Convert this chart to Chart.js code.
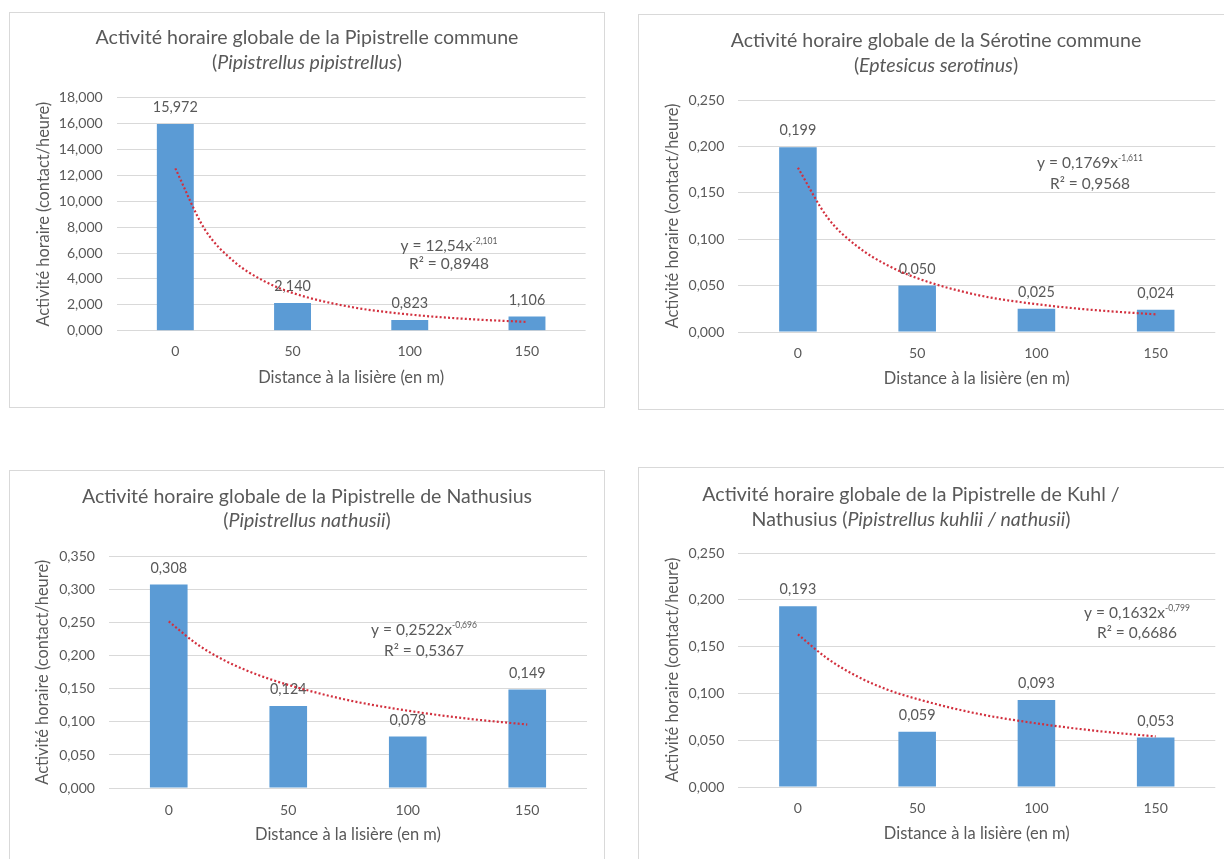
<!DOCTYPE html>
<html><head><meta charset="utf-8">
<script src="https://cdn.jsdelivr.net/npm/chart.js@4.4.1/dist/chart.umd.min.js"></script>
<style>
html,body{margin:0;padding:0;background:#fff;width:1224px;height:859px;overflow:hidden;position:relative;}
.panel{position:absolute;box-sizing:border-box;border:1px solid #D9D9D9;background:#fff;}
canvas{position:absolute;}
</style></head><body>
<script>
// ---------- DATA ----------
const categories = ['0', '50', '100', '150'];
const valuesPipistrelle = [15.972, 2.140, 0.823, 1.106];
const valuesSerotine = [0.199, 0.050, 0.025, 0.024];
const valuesNathusius = [0.308, 0.124, 0.078, 0.149];
const valuesKuhlNathusius = [0.193, 0.059, 0.093, 0.053];

// trendline (power fit), x in category positions
const trendX = [0, 0.25, 0.5, 0.75, 1, 1.5, 2, 2.5, 3];
const trendPipistrelle = [12.54, 7.85, 5.35, 3.87, 2.92, 1.83, 1.25, 0.90, 0.68];
const trendSerotine = [0.177, 0.123, 0.092, 0.072, 0.058, 0.040, 0.030, 0.0235, 0.019];
const trendNathusius = [0.252, 0.216, 0.190, 0.171, 0.156, 0.133, 0.117, 0.105, 0.096];
const trendKuhlNathusius = [0.163, 0.137, 0.118, 0.104, 0.094, 0.0785, 0.068, 0.060, 0.054];

const yMaxes = [18, 0.25, 0.35, 0.25];
const ySteps = [2, 0.05, 0.05, 0.05];

const eqCoefs = ['12,54', '0,1769', '0,2522', '0,1632'];
const eqExps = ['-2,101', '-1,611', '-0,696', '-0,799'];
const eqR2s = ['0,8948', '0,9568', '0,5367', '0,6686'];

const titleLines1 = [
  [['Activité horaire globale de la Pipistrelle commune', false]],
  [['Activité horaire globale de la Sérotine commune', false]],
  [['Activité horaire globale de la Pipistrelle de Nathusius', false]],
  [['Activité horaire globale de la Pipistrelle de Kuhl /', false]]
];
const titleLines2 = [
  [['(', false], ['Pipistrellus pipistrellus', true], [')', false]],
  [['(', false], ['Eptesicus serotinus', true], [')', false]],
  [['(', false], ['Pipistrellus nathusii', true], [')', false]],
  [['Nathusius (', false], ['Pipistrellus kuhlii / nathusii', true], [')', false]]
];
const yAxisTitle = 'Activité horaire (contact/heure)';
const xAxisTitle = 'Distance à la lisière (en m)';

const seriesValues = [valuesPipistrelle, valuesSerotine, valuesNathusius, valuesKuhlNathusius];
const seriesTrends = [trendPipistrelle, trendSerotine, trendNathusius, trendKuhlNathusius];

// ---------- LAYOUT / STYLE (page pixels) ----------
const layouts = [
  {box:[9, 12, 596, 396], plot:[116.7, 97.7, 585.6, 330.7], titleCx:307, titleY:[38, 63], yTitleX:44, xTitleY:378, xTickY:351, eq:[449, 246, 264]},
  {box:[638, 14, 598, 396], plot:[738.3, 100, 1215.3, 332], titleCx:936, titleY:[41, 66], yTitleX:672.5, xTitleY:379, xTickY:353, eq:[1090, 163, 184]},
  {box:[9, 470, 596, 396], plot:[109, 556.7, 587, 788], titleCx:307, titleY:[497, 521], yTitleX:43, xTitleY:835, xTickY:810, eq:[424, 630, 651]},
  {box:[638, 467, 598, 398], plot:[738.3, 553, 1215.3, 787], titleCx:911, titleY:[495, 520], yTitleX:672.5, xTitleY:834, xTickY:808, eq:[1137, 613, 633]}
];
const FONT = 'Lato, "Open Sans", sans-serif';
const TXT = '#595959';
const BAR = '#5B9BD5';
const TREND = '#D2303E';
const GRID = '#D9D9D9';

// font sizes fitted so that the text widths match the reference picture
const mctx = document.createElement('canvas').getContext('2d');
function fitSize(text, target, fallback, italic) {
  mctx.font = (italic ? 'italic ' : '') + '100px ' + FONT;
  const w = mctx.measureText(text).width;
  const s = 100 * target / w;
  return (isFinite(s) && s > 6 && s < 40) ? s : fallback;
}
const TITLE_SIZE = fitSize('Activité horaire globale de la Pipistrelle commune', 423, 19.5);
const YT_SIZE = fitSize(yAxisTitle, 225, 14.5);
const XT_SIZE = fitSize(xAxisTitle, 186, 16);
const TICK_SIZE = fitSize('18,000', 44, 14.5);
const LABEL_SIZE = fitSize('15,972', 45, 14.5);
const EQ_SIZE = fitSize('y = 12,54x', 72, 14);
const SUP_SIZE = fitSize('-2,101', 25, 9.5);

const fmt = v => Number(v).toFixed(3).replace('.', ',');

function drawSegments(ctx, segs, cx, cy, size) {
  let total = 0;
  const widths = segs.map(([t, it]) => {
    ctx.font = (it ? 'italic ' : '') + size + 'px ' + FONT;
    const w = ctx.measureText(t).width; total += w; return w;
  });
  let x = cx - total / 2;
  segs.forEach(([t, it], k) => {
    ctx.font = (it ? 'italic ' : '') + size + 'px ' + FONT;
    ctx.fillText(t, x, cy);
    x += widths[k];
  });
}

function makeChart(i) {
  const L = layouts[i];
  const [bx, by, bw, bh] = L.box;
  const [pl, pt, pr, pb] = L.plot;
  const div = document.createElement('div');
  div.className = 'panel';
  Object.assign(div.style, {left: bx + 'px', top: by + 'px', width: bw + 'px', height: bh + 'px'});
  document.body.appendChild(div);
  const cv = document.createElement('canvas');
  cv.width = bw; cv.height = bh;
  Object.assign(cv.style, {left: bx + 'px', top: by + 'px', width: bw + 'px', height: bh + 'px'});
  document.body.appendChild(cv);

  const values = seriesValues[i];
  const trend = seriesTrends[i];

  const textPlugin = {
    id: 'panelText' + i,
    beforeDatasetsDraw(chart) {
      const ctx = chart.ctx;
      const meta = chart.getDatasetMeta(1);
      ctx.save();
      ctx.fillStyle = TXT;
      ctx.font = LABEL_SIZE + 'px ' + FONT;
      ctx.textAlign = 'center';
      ctx.textBaseline = 'middle';
      meta.data.forEach((el, k) => {
        ctx.fillText(fmt(values[k]), el.x, el.y - 16.5);
      });
      ctx.restore();
    },
    afterDraw(chart) {
      const ctx = chart.ctx;
      ctx.save();
      ctx.fillStyle = TXT;
      ctx.textAlign = 'left';
      ctx.textBaseline = 'middle';
      drawSegments(ctx, titleLines1[i], L.titleCx - bx, L.titleY[0] - by, TITLE_SIZE);
      drawSegments(ctx, titleLines2[i], L.titleCx - bx, L.titleY[1] - by, TITLE_SIZE);
      // trendline equation
      const ex = L.eq[0] - bx, ey1 = L.eq[1] - by, ey2 = L.eq[2] - by;
      const main = 'y = ' + eqCoefs[i] + 'x';
      ctx.font = EQ_SIZE + 'px ' + FONT;
      const w1 = ctx.measureText(main).width;
      ctx.font = SUP_SIZE + 'px ' + FONT;
      const w2 = ctx.measureText(eqExps[i]).width;
      const x0 = ex - (w1 + w2) / 2;
      ctx.font = EQ_SIZE + 'px ' + FONT;
      ctx.fillText(main, x0, ey1);
      ctx.font = SUP_SIZE + 'px ' + FONT;
      ctx.fillText(eqExps[i], x0 + w1, ey1 - 5);
      ctx.font = EQ_SIZE + 'px ' + FONT;
      ctx.textAlign = 'center';
      ctx.fillText('R² = ' + eqR2s[i], ex, ey2);
      ctx.restore();
    }
  };

  new Chart(cv, {
    type: 'bar',
    data: {
      labels: categories,
      datasets: [
        {
          type: 'line',
          data: trendX.map((x, k) => ({x: x, y: trend[k]})),
          xAxisID: 'x2', yAxisID: 'y',
          borderColor: TREND, borderWidth: 2.2, borderDash: [2, 2.2],
          pointRadius: 0, fill: false, tension: 0.4, cubicInterpolationMode: 'monotone',
          order: 0
        },
        {
          type: 'bar',
          data: values,
          xAxisID: 'x', yAxisID: 'y',
          backgroundColor: BAR, borderWidth: 0,
          grouped: false,
          barPercentage: 0.315, categoryPercentage: 1,
          order: 1
        }
      ]
    },
    options: {
      responsive: false,
      animation: false,
      events: [],
      layout: {padding: {top: pt - by, right: bx + bw - pr, left: 0, bottom: 0}},
      plugins: {legend: {display: false}, tooltip: {enabled: false}, title: {display: false}},
      scales: {
        x: {
          type: 'category', offset: true,
          grid: {display: false, drawTicks: false}, border: {display: false},
          ticks: {color: TXT, font: {family: FONT, size: TICK_SIZE}, padding: L.xTickY - pb - TICK_SIZE * 0.6, maxRotation: 0},
          title: {display: true, text: xAxisTitle, color: TXT, font: {family: FONT, size: XT_SIZE},
                  padding: {top: 0, bottom: by + bh - L.xTitleY - XT_SIZE * 0.6}},
          afterFit(s) { s.height = by + bh - pb; }
        },
        x2: {type: 'linear', display: false, offset: false, grid: {offset: false}, bounds: 'data', min: -0.5, max: 3.5},
        y: {
          min: 0, max: yMaxes[i],
          grid: {color: GRID, lineWidth: 1, drawTicks: false}, border: {display: false},
          ticks: {stepSize: ySteps[i], color: TXT, font: {family: FONT, size: TICK_SIZE}, padding: 14, callback: v => fmt(v)},
          title: {display: true, text: yAxisTitle, color: TXT, font: {family: FONT, size: YT_SIZE},
                  padding: {top: L.yTitleX - bx - YT_SIZE * 0.6, bottom: 0}},
          afterFit(s) { s.width = pl - bx; }
        }
      }
    },
    plugins: [textPlugin]
  });
}

for (let i = 0; i < 4; i++) makeChart(i);
</script>
</body></html>
